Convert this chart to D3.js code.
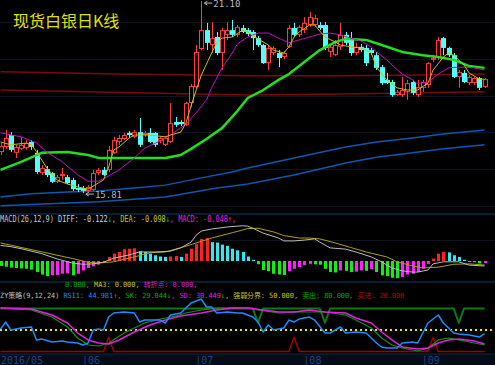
<!DOCTYPE html>
<html><head><meta charset="utf-8">
<script src="https://cdn.jsdelivr.net/npm/d3@7"></script>
<style>html,body{margin:0;padding:0;background:#000;overflow:hidden}</style>
</head><body>
<svg id="c" width="495" height="365"></svg>
<script>
// ---- data ----
const opens = [16.94,17.08,17.41,16.92,17.03,17.05,17.22,16.92,16.36,16.47,
16.36,16.12,16.28,16.25,16.17,15.95,15.95,15.87,15.90,16.36,
16.45,16.45,16.92,17.22,17.30,17.47,17.36,17.49,17.41,17.47,
17.47,17.25,17.14,17.22,17.77,17.77,17.69,18.29,18.73,19.78,
20.30,19.89,20.11,19.67,20.17,20.30,20.17,20.36,20.30,20.25,
20.08,19.89,19.39,19.67,19.67,19.56,19.84,20.36,20.17,20.30,
20.44,20.44,20.44,20.44,19.70,19.61,19.84,20.17,20.03,19.67,
19.84,19.81,19.75,19.61,19.28,18.93,18.87,18.51,18.51,18.60,
18.87,18.51,18.71,18.79,19.48,19.53,20.08,19.81,19.61,19.01,
19.12,18.84,18.84,18.98,18.73];
const closes = [17.11,17.33,17.00,17.08,17.14,17.19,17.08,16.39,16.50,16.31,
16.12,16.25,16.34,16.09,15.92,15.90,15.87,15.98,16.36,16.45,
16.31,17.00,17.27,17.33,17.41,17.41,17.49,17.14,17.47,17.22,
17.14,17.33,17.33,17.74,17.69,17.71,18.29,18.76,19.70,20.30,
19.95,20.08,19.67,20.30,20.30,20.17,20.39,20.25,20.19,20.08,
19.89,19.39,19.81,19.81,19.53,19.67,20.36,20.17,20.39,20.50,
20.66,20.63,20.36,19.81,19.84,19.89,20.17,19.95,19.67,19.84,
19.75,19.39,19.67,19.26,18.84,18.84,18.51,18.60,18.65,18.84,
18.57,18.73,18.87,19.39,19.53,20.03,19.81,19.61,19.01,19.15,
18.87,19.01,18.98,18.71,18.95];
const highs = [17.19,17.55,17.49,17.14,17.36,17.27,17.27,17.00,16.58,16.56,
16.39,16.31,16.50,16.31,16.23,16.06,16.01,16.03,16.45,16.50,
16.53,17.11,17.36,17.41,17.47,17.52,17.55,17.88,17.52,17.60,
17.49,17.38,17.38,18.29,17.91,17.82,18.32,18.82,19.89,21.10,
20.50,20.52,20.25,20.36,20.52,20.58,20.44,20.44,20.36,20.30,
20.14,19.92,19.89,19.86,19.75,19.73,20.44,20.50,20.44,20.66,
20.80,20.72,20.52,20.52,19.89,20.03,20.50,20.25,20.25,19.95,
19.92,19.89,19.81,19.70,19.34,19.12,18.93,18.65,19.01,18.93,
18.93,18.93,18.93,19.42,19.61,20.11,20.11,19.84,19.67,19.20,
19.20,19.06,19.01,19.01,18.98];
const lows = [16.86,17.03,16.94,16.78,17.00,17.00,17.00,16.34,16.31,16.25,
16.09,16.09,16.17,16.06,15.87,15.84,15.81,15.84,15.87,16.31,
16.28,16.39,16.89,17.14,17.27,17.33,17.33,17.08,17.36,17.19,
17.08,17.19,17.11,17.19,17.63,17.66,17.66,18.18,18.71,19.75,
19.75,19.67,19.61,19.20,20.03,20.11,20.11,20.22,20.14,19.75,
19.84,19.37,19.20,19.61,19.28,19.50,19.81,20.11,20.11,20.22,
20.39,20.39,20.30,19.75,19.56,19.59,19.75,19.89,19.59,19.61,
19.70,19.31,19.61,19.20,18.79,18.82,18.46,18.49,18.46,18.38,
18.51,18.46,18.60,18.71,19.42,19.48,19.61,19.56,18.98,18.71,
18.84,18.79,18.79,18.65,18.71];

// moving averages: [candle index, price]
const ma5 = [[0,17.22],[2,17.14],[5,17.19],[6,17.14],[7,16.95],[9,16.50],[11,16.17],[13,16.06],[15,15.98],[17,15.92],
[19,16.09],[20,16.17],[21,16.53],[22,17.00],[23,17.08],[25,17.33],[26,17.41],[29,17.41],[32,17.36],[33,17.41],
[35,17.49],[36,17.74],[37,18.21],[38,18.65],[39,19.06],[41,19.67],[42,19.95],[43,20.08],[45,20.11],[47,20.30],
[48,20.25],[50,20.06],[52,19.89],[53,19.75],[55,19.67],[56,19.84],[57,20.11],[58,20.25],[60,20.44],[61,20.44],
[63,20.11],[65,19.97],[66,19.89],[68,19.84],[70,19.81],[72,19.67],[73,19.28],[75,18.93],[77,18.71],[79,18.65],
[81,18.65],[83,18.84],[84,19.20],[86,19.56],[87,19.67],[88,19.61],[90,19.34],[91,19.12],[93,18.95],[94,18.95]];
const ma10 = [[0,17.47],[4,17.36],[7,17.19],[9,16.94],[12,16.67],[15,16.31],[17,16.14],[19,16.14],[21,16.28],[23,16.45],
[26,16.78],[28,17.05],[31,17.25],[33,17.41],[36,17.71],[38,18.02],[40,18.38],[41,18.71],[43,19.26],[45,19.67],
[46,19.92],[48,20.11],[50,20.22],[52,20.22],[54,20.08],[56,19.95],[58,20.03],[60,20.11],[62,20.19],[64,20.22],
[66,20.17],[68,20.08],[70,20.00],[72,19.84],[73,19.70],[75,19.48],[76,19.34],[78,19.09],[80,18.93],[81,18.82],
[83,18.87],[85,19.09],[87,19.26],[89,19.28],[90,19.28],[92,19.26],[94,19.20]];
const ma60 = [[0,16.45],[4,16.67],[8,16.92],[13,16.94],[17,16.86],[19,16.78],[26,16.78],[32,16.78],[35,16.86],[37,17.03],
[40,17.30],[43,17.60],[46,18.07],[48,18.43],[51,18.65],[54,18.93],[56,19.09],[59,19.42],[62,19.75],[65,19.97],
[67,20.06],[71,20.03],[74,19.89],[78,19.70],[82,19.61],[85,19.56],[88,19.48],[91,19.31],[94,19.26]];
const ma120 = [[0,19.15],[23,19.09],[48,19.04],[64,19.04],[78,19.06],[94,19.09]];
const ma250 = [[0,18.65],[48,18.51],[66,18.54],[94,18.60]];
const bollUp = [[0,15.70],[6,15.79],[13,15.84],[19,15.87],[26,15.95],[32,16.03],[39,16.23],[45,16.39],[48,16.50],[57,16.78],
[67,17.08],[73,17.22],[80,17.33],[86,17.44],[94,17.55]];
const bollLow = [[0,15.46],[19,15.57],[32,15.70],[42,15.95],[48,16.06],[57,16.31],[67,16.64],[73,16.80],[80,16.92],[86,17.03],[94,17.14]];

// MACD
const macdHist = [-0.12,-0.14,-0.16,-0.17,-0.18,-0.19,-0.21,-0.27,-0.33,-0.37,
-0.35,-0.34,-0.31,-0.30,-0.35,-0.31,-0.23,-0.17,-0.13,-0.09,
-0.05,0.10,0.18,0.22,0.29,0.30,0.31,0.24,0.22,0.18,
0.14,0.11,0.10,0.11,0.12,0.10,0.18,0.30,0.41,0.54,
0.56,0.46,0.45,0.40,0.37,0.30,0.26,0.22,0.11,0.03,
-0.08,-0.22,-0.25,-0.31,-0.33,-0.34,-0.25,-0.19,-0.15,-0.10,
-0.07,-0.08,-0.09,-0.19,-0.27,-0.28,-0.23,-0.24,-0.27,-0.26,
-0.23,-0.24,-0.20,-0.27,-0.35,-0.37,-0.41,-0.42,-0.39,-0.33,
-0.31,-0.27,-0.19,-0.07,0.06,0.18,0.22,0.21,0.14,0.10,
0.03,-0.02,-0.03,-0.06,-0.05];
const diff = [[0,0.38],[2,0.35],[4,0.30],[8,0.18],[11,0.05],[14,-0.05],[16,-0.08],[18,-0.07],[20,-0.03],[22,0.07],
[25,0.15],[27,0.22],[30,0.22],[33,0.24],[35,0.32],[37,0.46],[38,0.63],[39,0.73],[41,0.78],[44,0.83],
[47,0.86],[48,0.85],[49,0.80],[51,0.68],[54,0.56],[55,0.49],[57,0.49],[59,0.51],[61,0.54],[62,0.46],
[64,0.32],[67,0.29],[69,0.22],[72,0.10],[74,-0.02],[76,-0.17],[78,-0.24],[80,-0.27],[81,-0.27],[83,-0.22],
[84,-0.07],[86,-0.02],[89,-0.02],[91,-0.10],[94,-0.122]];
const dea = [[0,0.44],[14,0.06],[17,-0.03],[19,-0.05],[22,-0.02],[26,0.10],[29,0.20],[32,0.22],[36,0.36],[39,0.48],
[41,0.56],[45,0.69],[48,0.79],[50,0.80],[53,0.71],[55,0.62],[58,0.56],[60,0.56],[62,0.54],[65,0.44],
[68,0.33],[71,0.22],[75,0.10],[77,-0.02],[80,-0.12],[82,-0.17],[85,-0.15],[88,-0.08],[91,-0.07],[94,-0.098]];

// RSI / SK / SD
const rsi1 = [[0,51.4],[1,61.2],[2,50.0],[4,52.8],[6,54.2],[7,36.1],[8,37.4],[10,33.3],[12,34.7],[13,33.3],
[15,31.9],[16,29.1],[17,31.9],[18,50.0],[19,51.4],[20,50.0],[21,68.1],[22,73.7],[24,75.1],[26,73.7],
[27,61.2],[28,63.9],[30,63.9],[31,63.9],[32,59.8],[33,70.9],[35,73.7],[37,87.7],[39,93.2],[40,82.1],
[41,82.1],[42,73.7],[44,75.1],[46,73.7],[47,73.7],[49,68.1],[50,61.2],[51,47.2],[52,57.0],[53,50.0],
[55,52.8],[56,63.9],[57,61.2],[58,65.3],[60,68.1],[61,63.9],[63,45.8],[64,45.8],[66,54.2],[67,45.8],
[69,47.2],[71,45.8],[73,31.9],[74,26.3],[75,24.9],[77,24.9],[78,31.9],[80,33.3],[81,31.9],[83,59.8],
[85,70.9],[86,59.8],[88,45.8],[89,44.4],[91,43.0],[93,40.2],[94,44.98]];
const sk = [[0,80.7],[6,77.9],[10,68.1],[13,54.2],[15,38.8],[17,29.1],[19,27.7],[21,31.9],[24,45.8],[28,59.8],
[31,65.3],[34,69.5],[36,73.7],[39,77.9],[42,80.7],[45,80.7],[48,80.7],[50,77.9],[54,73.7],[57,75.1],
[60,75.1],[63,75.1],[67,70.9],[69,63.9],[72,52.8],[74,38.8],[76,29.1],[78,24.9],[81,20.7],[83,24.9],
[85,36.1],[87,38.8],[89,36.1],[92,31.9],[94,29.04]];
const sd = [[0,80.7],[6,79.3],[10,70.9],[13,59.8],[15,45.8],[17,36.1],[19,31.9],[21,30.5],[23,36.1],[26,47.2],
[29,57.0],[32,63.9],[35,69.5],[39,73.7],[42,77.9],[45,80.7],[48,80.7],[51,77.9],[54,75.1],[57,75.1],
[60,77.9],[63,75.1],[67,73.7],[69,66.7],[72,59.8],[74,47.2],[76,36.1],[78,26.3],[81,23.5],[83,24.9],
[85,31.9],[87,36.1],[89,37.4],[92,34.7],[94,30.45]];
const sellLevel = 80, buyLevel = 20, midLevel = 50, signalDepth = 20;
const sellSignals = [50,63,89];
const buySignals = [21,57,84];

const monthLabels = ["2016/05","|06","|07","|08","|09"];
const monthStarts = [0,16,38,59,82];

// ---- drawing ----
const W = 495, H = 365, N = closes.length;
const svg = d3.select("#c");
svg.append("rect").attr("width",W).attr("height",H).attr("fill","#000");

const x = d3.scaleLinear().domain([0, N-1]).range([0.5, 0.5 + (N-1)*5.15]);
const y = d3.scaleLinear().domain([15.262, 21.13]).range([213, 0]);
const ym = d3.scaleLinear().domain([-0.5, 1.1]).range([281.5, 215.9]);
const yr = d3.scaleLinear().domain([20, 80]).range([351.5, 308.5]);

// faint grid
const grid = svg.append("g").attr("stroke","#0a1622").attr("stroke-width",1);
[22,59,96,132,169,206,240].forEach(g=>grid.append("line").attr("x1",0).attr("x2",W).attr("y1",g+0.5).attr("y2",g+0.5));
// separators
const sep = svg.append("g").attr("stroke","#0d2848").attr("stroke-width",1.5);
[214,282].forEach(g=>sep.append("line").attr("x1",0).attr("x2",W).attr("y1",g).attr("y2",g));

// title
svg.append("text").attr("x",13).attr("y",27).attr("fill","#e0e000")
  .attr("font-family","'Noto Sans CJK SC',sans-serif").attr("font-size",16).text("现货白银日K线");

const lineGen = sc => d3.line().x(d=>x(d[0])).y(d=>sc(d[1]));
function drawLine(data, sc, color, w){
  svg.append("path").datum(data).attr("d", lineGen(sc)).attr("fill","none")
    .attr("stroke",color).attr("stroke-width",w).attr("stroke-linejoin","round");
}
// long MAs under candles
drawLine(ma120, y, "#7a0a0a", 1.5);
drawLine(ma250, y, "#7a0a0a", 1.5);
drawLine(bollUp, y, "#0a58b0", 1.5);
drawLine(bollLow, y, "#0a58b0", 1.5);

// candles
const cg = svg.append("g");
for (let i=0;i<N;i++){
  const cx = Math.round(x(i));
  const up = closes[i] >= opens[i];
  const col = up ? "#ff3c3c" : "#54fcfc";
  cg.append("rect").attr("x",cx).attr("y",y(highs[i])).attr("width",1)
    .attr("height",Math.max(1,y(lows[i])-y(highs[i]))).attr("fill",col);
  const top = y(Math.max(opens[i],closes[i])), bot = y(Math.min(opens[i],closes[i]));
  const h = Math.max(1, bot-top);
  if (up) {
    cg.append("rect").attr("x",cx-1.5).attr("y",top+0.5).attr("width",4).attr("height",Math.max(0.5,h-1))
      .attr("fill","#000").attr("stroke",col).attr("stroke-width",1);
  } else {
    cg.append("rect").attr("x",cx-2).attr("y",top).attr("width",5).attr("height",h).attr("fill",col);
  }
}
drawLine(ma60, y, "#1ee01e", 2.5);
drawLine(ma10, y, "#c010c0", 1);
drawLine(ma5, y, "#c8c000", 1);

// extreme labels
const hiI = highs.indexOf(d3.max(highs)), loI = lows.indexOf(d3.min(lows));
function extLabel(i, v, dy){
  const px = x(i)+3, py = y(v);
  svg.append("line").attr("x1",px).attr("x2",px+8).attr("y1",py+dy).attr("y2",py+dy).attr("stroke","#b8b8b8");
  svg.append("path").attr("d",`M${px},${py+dy} l3,-2 M${px},${py+dy} l3,2`).attr("stroke","#b8b8b8").attr("fill","none");
  svg.append("text").attr("x",px+9).attr("y",py+dy+3.5).attr("fill","#b8b8b8")
    .attr("font-family","'DejaVu Sans Mono',monospace").attr("font-size",9).text(v.toFixed(2));
}
extLabel(hiI, highs[hiI], 2);
extLabel(loI, lows[loI], 1);

// MACD histogram
const mg = svg.append("g");
macdHist.forEach((v,i)=>{
  const prev = i>0 ? macdHist[i-1] : v;
  let col;
  if (v >= 0) col = v >= prev ? "#ff2020" : "#30e8f0";
  else col = v <= prev ? "#10f010" : "#ff20ff";
  const cx = Math.round(x(i));
  const y0 = ym(0), y1 = ym(v);
  mg.append("rect").attr("x",cx-1).attr("width",3).attr("y",Math.min(y0,y1)).attr("height",Math.max(1,Math.abs(y1-y0))).attr("fill",col);
});
drawLine(dea, ym, "#b0a000", 1);
drawLine(diff, ym, "#bcbcbc", 1);

// RSI panel
svg.append("line").attr("x1",0).attr("x2",W).attr("y1",yr(midLevel)).attr("y2",yr(midLevel))
  .attr("stroke","#e8e800").attr("stroke-width",2).attr("stroke-dasharray","2,3");
const sellSeries = d3.range(N).map(i=>[i, sellSignals.includes(i) ? sellLevel-signalDepth : sellLevel]);
const buySeries = d3.range(N).map(i=>[i, buySignals.includes(i) ? buyLevel+signalDepth : buyLevel]);
drawLine(sellSeries, yr, "#0c7a0c", 2);
drawLine(buySeries, yr, "#a00000", 1.5);
drawLine(sk, yr, "#109010", 1.2);
drawLine(sd, yr, "#e020e0", 1.5);
drawLine(rsi1, yr, "#1a8cff", 1.5);

// header texts: one text per row, condensed, coloured tspans flowing naturally
function row(x0, yy, sy, segs){
  const g = svg.append("g").attr("transform",`translate(${x0},${yy}) scale(0.766,${sy})`);
  const t = g.append("text").attr("x",0).attr("y",0).attr("xml:space","preserve")
    .attr("font-family","'DejaVu Sans Mono','Noto Sans CJK SC',monospace").attr("font-size",9);
  segs.forEach(([txt,col])=>t.append("tspan").attr("fill",col).text(txt));
}
row(0, 222, 1, [
  ["MACD(26,12,9) ","#c8c8c8"],
  ["DIFF: -0.122","#d0d0d0"],
  ["↓","#00c000"],
  [", DEA: -0.098","#c8c800"],
  ["↓","#00c000"],
  [", MACD: -0.048","#e020e0"],
  ["↑","#ff3030"],
  [",","#e020e0"]
]);
row(65, 287, 0.8, [
  ["0.000, ","#00b000"],
  ["MA3: 0.000, ","#c8c800"],
  ["转折点: 0.000,","#d020d0"]
]);
row(0, 298, 0.8, [
  ["ZY策略(9,12,24) ","#c0c0c0"],
  ["RSI1: 44.981","#1a8cff"],
  ["↑","#ff3030"],
  [", SK: 29.044","#00b000"],
  ["↓","#00c000"],
  [", SD: 30.449","#e020e0"],
  ["↓","#00c000"],
  [", 强弱分界: 50.000, ","#c8c800"],
  ["卖出: 80.000, ","#00b000"],
  ["买进: 20.000","#c00000"]
]);

// date axis
svg.append("rect").attr("x",0).attr("y",354).attr("width",W).attr("height",11).attr("fill","#040c18");
svg.append("line").attr("x1",0).attr("x2",W).attr("y1",354).attr("y2",354).attr("stroke","#0d2848");
monthLabels.forEach((t,k)=>{
  svg.append("text").attr("x", k===0 ? 1 : x(monthStarts[k])-1).attr("y",364).attr("fill","#1a4488")
    .attr("font-family","'DejaVu Sans Mono',monospace").attr("font-size",10).text(t);
});
</script>
</body></html>
